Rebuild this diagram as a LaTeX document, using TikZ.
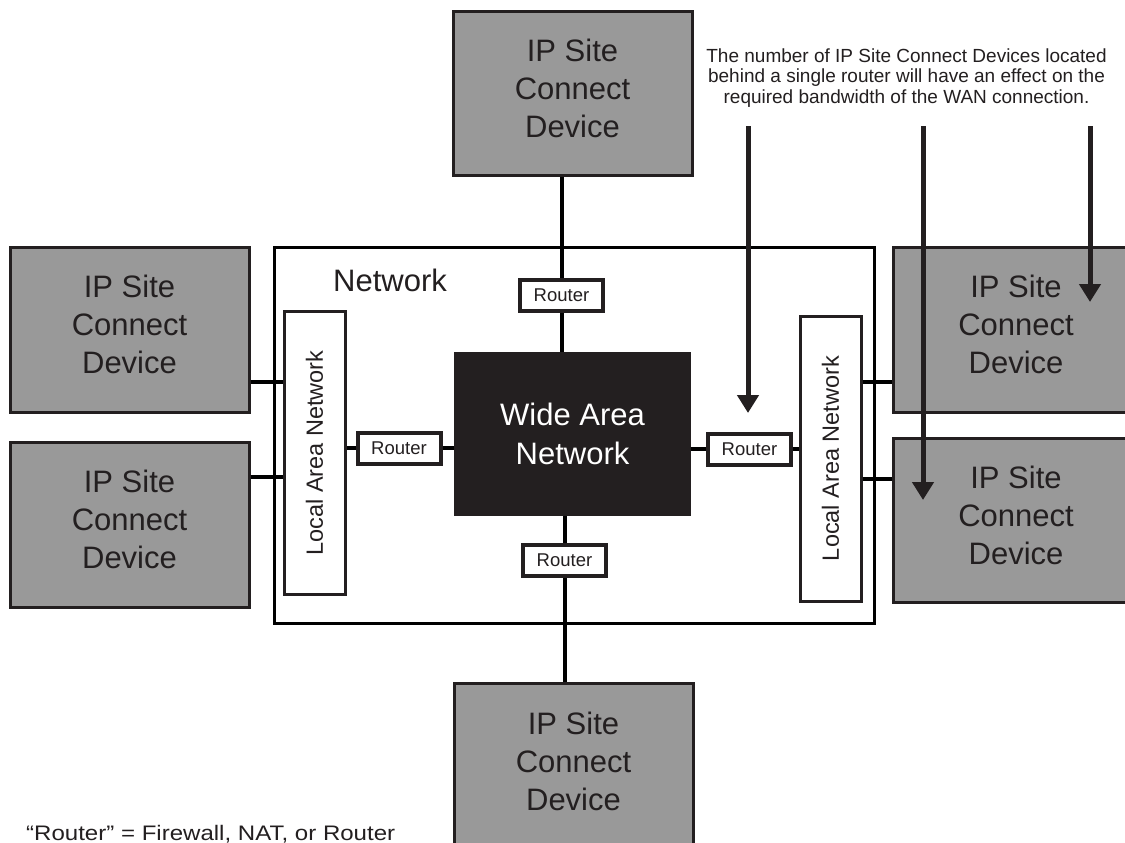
\documentclass[tikz,border=0pt]{standalone}
\usepackage{fontspec}
\setmainfont{Liberation Sans}
\usetikzlibrary{arrows.meta}
\definecolor{ink}{HTML}{231F20}
\definecolor{devgray}{HTML}{999999}
\begin{document}
\begin{tikzpicture}[x=1pt,y=-1pt,
  device/.style={draw=ink, line width=3pt, fill=devgray, minimum width=239pt, minimum height=164pt,
    inner sep=0pt, align=center, text=ink, text depth=10pt, font=\fontsize{31}{38}\selectfont},
  netbox/.style={draw=black, line width=3pt, fill=white, minimum width=600pt, minimum height=376pt, inner sep=0pt},
  lanbox/.style={draw=ink, line width=3pt, fill=white, minimum width=61pt, minimum height=283pt, inner sep=0pt,
    text=ink, font=\fontsize{23.5}{27}\selectfont},
  router/.style={draw=ink, line width=4pt, fill=white, minimum width=83pt, minimum height=31pt, inner sep=0pt,
    text=ink, font=\fontsize{18.5}{21}\selectfont},
  wan/.style={fill=ink, minimum width=237pt, minimum height=164pt, inner sep=0pt, align=center, text=white,
    font=\fontsize{31}{39}\selectfont},
  conn/.style={draw=black, line width=4pt},
  arr/.style={draw=ink, line width=5pt, -{Triangle[width=21pt,length=18pt]}},
  lbl/.style={inner sep=0pt, text=ink}
]
\useasboundingbox (0,0) rectangle (1125,843);
\fill[white] (0,0) rectangle (1125,843);

% network frame
\node[netbox] (net) at (574,435) {};
\node[lbl, font=\fontsize{31}{37}\selectfont] (netlbl) at (390,280) {Network};

% devices
\node[device, minimum height=163pt] (dtop) at (572.5,93.5) {IP Site\\Connect\\Device};
\node[device, minimum height=167pt] (dbot) at (573.5,766.5) {IP Site\\Connect\\Device};
\node[device, minimum height=165pt] (dl1) at (129.5,329.5) {IP Site\\Connect\\Device};
\node[device, minimum height=165pt] (dl2) at (129.5,524.5) {IP Site\\Connect\\Device};
\node[device, minimum width=246pt, minimum height=165pt] (dr1) at (1016,329.5) {IP Site\\Connect\\Device};
\node[device, minimum width=246pt] (dr2) at (1016,520) {IP Site\\Connect\\Device};

% LANs
\node[lanbox] (lanL) at (314.5,453) {\rotatebox{90}{Local Area Network}};
\node[lanbox, minimum height=285pt] (lanR) at (830.5,458.5) {\rotatebox{90}{Local Area Network}};

% WAN
\node[wan] (wan) at (572.5,434) {Wide Area\\Network};

% routers
\node[router] (rtop) at (561.5,295.5) {Router};
\node[router] (rbot) at (564.5,560.5) {Router};
\node[router] (rleft) at (399,448) {Router};
\node[router] (rright) at (749.5,449) {Router};

% helper levels
\coordinate (y1) at (0,382);
\coordinate (y2) at (0,477);
\coordinate (y3) at (0,382);
\coordinate (y4) at (0,479);

% connectors
\draw[conn] (dtop.south -| rtop) -- (rtop.north);
\draw[conn] (rtop.south) -- (rtop.south |- wan.north);
\draw[conn] (rbot.north |- wan.south) -- (rbot.north);
\draw[conn] (rbot.south) -- (rbot.south |- dbot.north);
\draw[conn] (lanL.east |- rleft) -- (rleft.west);
\draw[conn] (rleft.east) -- (rleft.east -| wan.west);
\draw[conn] (wan.east |- rright) -- (rright.west);
\draw[conn] (rright.east) -- (rright.east -| lanR.west);
\draw[conn] (dl1.east |- y1) -- (lanL.west |- y1);
\draw[conn] (dl2.east |- y2) -- (lanL.west |- y2);
\draw[conn] (lanR.east |- y3) -- (dr1.west |- y3);
\draw[conn] (lanR.east |- y4) -- (dr2.west |- y4);

% note and arrows
\node[lbl, align=center, font=\fontsize{19}{20.5}\selectfont] (note) at (906.5,78)
  {The number of IP Site Connect Devices located\\behind a single router will have an effect on the\\required bandwidth of the WAN connection.};
\coordinate (a1s) at (748,126);
\coordinate (a1e) at (748,413);
\coordinate (a2s) at (923,126);
\coordinate (a2e) at (923,500);
\coordinate (a3s) at (1090,126);
\coordinate (a3e) at (1090,302);
\draw[arr] (a1s) -- (a1e);
\draw[arr] (a2s) -- (a2e);
\draw[arr] (a3s) -- (a3e);

% footnote
\node[lbl, anchor=base west, font=\fontsize{21}{25}\selectfont] (foot) at (26,840)
  {\scalebox{1.145}[1]{“Router” = Firewall, NAT, or Router}};
\end{tikzpicture}
\end{document}
